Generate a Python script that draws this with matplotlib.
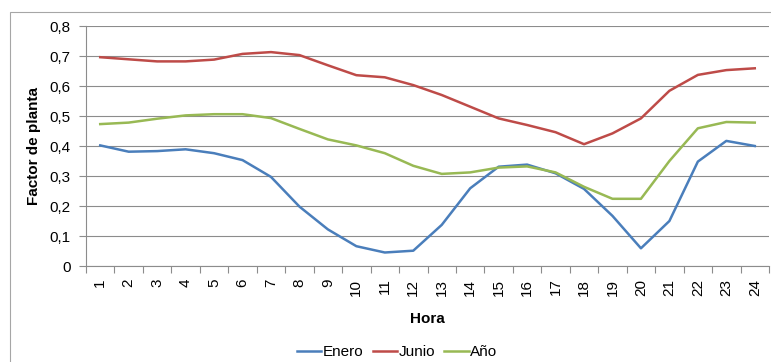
import numpy as np
import matplotlib.pyplot as plt
from matplotlib.patches import Rectangle

plt.rcParams['font.family'] = ['Liberation Sans', 'DejaVu Sans']

# Factor de planta horario
horas = list(range(1, 25))
enero = [0.402, 0.381, 0.383, 0.389, 0.376, 0.353, 0.297, 0.198, 0.122, 0.066,
         0.045, 0.051, 0.137, 0.259, 0.331, 0.338, 0.309, 0.257, 0.167, 0.059,
         0.150, 0.348, 0.417, 0.400]
junio = [0.696, 0.689, 0.682, 0.682, 0.688, 0.707, 0.713, 0.703, 0.669, 0.636,
         0.629, 0.603, 0.570, 0.531, 0.492, 0.470, 0.446, 0.406, 0.442, 0.492,
         0.584, 0.637, 0.653, 0.659]
anio = [0.473, 0.478, 0.491, 0.502, 0.506, 0.506, 0.493, 0.457, 0.422, 0.402,
        0.376, 0.334, 0.307, 0.312, 0.328, 0.332, 0.312, 0.264, 0.224, 0.224,
        0.350, 0.459, 0.480, 0.478]

W, H = 771, 362
fig = plt.figure(figsize=(W / 100, H / 100), dpi=100)

# marco exterior del grafico
fig.add_artist(Rectangle((9.5 / W, -0.01), 1.0, (H - 11.5) / H + 0.01,
                         transform=fig.transFigure, fill=False,
                         edgecolor='#a6a6a6', linewidth=0.8))

ax = fig.add_axes([86 / W, (H - 266) / H, (769 - 86) / W, 240 / H])

x = np.arange(len(horas))
ax.plot(x, enero, color='#4a7ebb', linewidth=1.8, label='Enero')
ax.plot(x, junio, color='#be4b48', linewidth=1.8, label='Junio')
ax.plot(x, anio, color='#98b954', linewidth=1.8, label='Año')

ax.set_xlim(-0.5, len(horas) - 0.5)
ax.set_ylim(0, 0.8)
ax.set_yticks(np.arange(0, 0.81, 0.1))
ax.set_yticklabels(['0'] + [f'0,{i}' for i in range(1, 9)])
ax.set_xticks(x)
ax.set_xticklabels([str(h) for h in horas], rotation=90)
ax.set_xticks(np.arange(-0.5, len(horas)), minor=True)

ax.grid(axis='y', color='#8c8c8c', linewidth=0.8)
ax.set_axisbelow(True)
for side in ['top', 'right']:
    ax.spines[side].set_visible(False)
for side in ['left', 'bottom']:
    ax.spines[side].set_color('#8c8c8c')
    ax.spines[side].set_linewidth(0.8)

ax.tick_params(axis='x', which='major', length=0, labelsize=11, pad=9)
ax.tick_params(axis='x', which='minor', length=5, color='#8c8c8c', width=0.8)
ax.tick_params(axis='y', length=5, color='#8c8c8c', width=0.8, labelsize=11, pad=6)

ax.set_xlabel('Hora', fontsize=11, fontweight='bold', labelpad=12)
ax.set_ylabel('Factor de planta', fontsize=11, fontweight='bold', labelpad=6)

fig.legend(loc='center', bbox_to_anchor=(397 / W, (H - 352) / H), ncol=3, frameon=False,
           fontsize=11, handlelength=1.6, handletextpad=0.1, columnspacing=0.6)

fig.savefig('out.png', dpi=100)
